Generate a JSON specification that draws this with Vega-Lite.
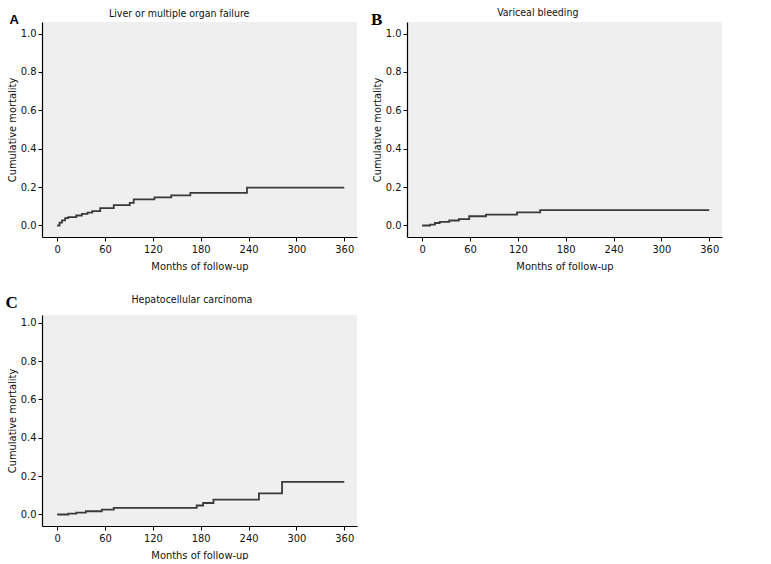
{
  "$schema": "https://vega.github.io/schema/vega-lite/v6.json",
  "padding": {"top": 8, "left": 5, "right": 5, "bottom": 0},
  "background": "white",
  "config": {
    "font": "'DejaVu Sans Condensed', 'DejaVu Sans'",
    "view": {"fill": "#efefef", "stroke": null},
    "axis": {
      "grid": false,
      "domainColor": "#000",
      "domainWidth": 1.2,
      "tickColor": "#000",
      "tickSize": 4,
      "labelColor": "#111",
      "labelFontSize": 11,
      "labelPadding": 2,
      "titleFontSize": 11,
      "titleFontWeight": "normal",
      "titleColor": "#111"
    }
  },
  "datasets": {
    "liver": [
      {"month": 0, "mortality": 0.0},
      {"month": 3, "mortality": 0.015},
      {"month": 6, "mortality": 0.027},
      {"month": 10, "mortality": 0.038},
      {"month": 14, "mortality": 0.044},
      {"month": 24, "mortality": 0.052},
      {"month": 31, "mortality": 0.06},
      {"month": 38, "mortality": 0.067},
      {"month": 44, "mortality": 0.075},
      {"month": 54, "mortality": 0.09},
      {"month": 71, "mortality": 0.106},
      {"month": 91, "mortality": 0.118},
      {"month": 96, "mortality": 0.136},
      {"month": 122, "mortality": 0.146},
      {"month": 143, "mortality": 0.157},
      {"month": 167, "mortality": 0.17},
      {"month": 238, "mortality": 0.197},
      {"month": 360, "mortality": 0.197}
    ],
    "varix": [
      {"month": 0, "mortality": 0.0},
      {"month": 10, "mortality": 0.004},
      {"month": 16, "mortality": 0.013},
      {"month": 22, "mortality": 0.019},
      {"month": 34, "mortality": 0.026},
      {"month": 46, "mortality": 0.033},
      {"month": 59, "mortality": 0.048},
      {"month": 80, "mortality": 0.057},
      {"month": 119, "mortality": 0.068},
      {"month": 148, "mortality": 0.08},
      {"month": 360, "mortality": 0.08}
    ],
    "hcc": [
      {"month": 0, "mortality": 0.0},
      {"month": 14, "mortality": 0.004},
      {"month": 24, "mortality": 0.01},
      {"month": 36, "mortality": 0.017},
      {"month": 56, "mortality": 0.025},
      {"month": 71, "mortality": 0.034},
      {"month": 175, "mortality": 0.047},
      {"month": 183, "mortality": 0.06},
      {"month": 196, "mortality": 0.078},
      {"month": 253, "mortality": 0.11},
      {"month": 282, "mortality": 0.17},
      {"month": 360, "mortality": 0.17}
    ],
    "labels": [
      {"panel": "A", "heading": "Liver or multiple organ failure"},
      {"panel": "B", "heading": "Variceal bleeding"},
      {"panel": "C", "heading": "Hepatocellular carcinoma"}
    ]
  },
  "columns": 2,
  "spacing": {"column": 14, "row": 22},
  "concat": [
    {
      "width": 315,
      "height": 215,
      "layer": [
        {
          "data": {"name": "liver"},
          "mark": {"type": "line", "interpolate": "step-after", "color": "#3a3a3a", "strokeWidth": 1.8},
          "encoding": {
            "x": {"field": "month", "type": "quantitative", "scale": {"domain": [-19, 376], "nice": false, "zero": false},
                  "axis": {"values": [0, 60, 120, 180, 240, 300, 360], "title": "Months of follow-up", "titlePadding": 6}},
            "y": {"field": "mortality", "type": "quantitative", "scale": {"domain": [-0.06, 1.06], "nice": false, "zero": false},
                  "axis": {"values": [0, 0.2, 0.4, 0.6, 0.8, 1.0], "format": ".1f", "title": "Cumulative mortality", "titlePadding": 3}}
          }
        },
        {
          "data": {"name": "labels"},
          "transform": [{"filter": "datum.panel === 'A'"}],
          "mark": {"type": "text", "font": "Liberation Sans", "fontWeight": "bold", "fontSize": 13, "baseline": "middle", "align": "center", "clip": false, "color": "#000"},
          "encoding": {"x": {"datum": -54}, "y": {"datum": 1.073}, "text": {"field": "panel"}}
        },
        {
          "data": {"name": "labels"},
          "transform": [{"filter": "datum.panel === 'A'"}],
          "mark": {"type": "text", "fontSize": 10.5, "baseline": "alphabetic", "align": "center", "clip": false, "color": "#111"},
          "encoding": {"x": {"datum": 153}, "y": {"datum": 1.0845}, "text": {"field": "heading"}}
        }
      ]
    },
    {
      "width": 315,
      "height": 215,
      "layer": [
        {
          "data": {"name": "varix"},
          "mark": {"type": "line", "interpolate": "step-after", "color": "#3a3a3a", "strokeWidth": 1.8},
          "encoding": {
            "x": {"field": "month", "type": "quantitative", "scale": {"domain": [-19, 376], "nice": false, "zero": false},
                  "axis": {"values": [0, 60, 120, 180, 240, 300, 360], "title": "Months of follow-up", "titlePadding": 6}},
            "y": {"field": "mortality", "type": "quantitative", "scale": {"domain": [-0.06, 1.06], "nice": false, "zero": false},
                  "axis": {"values": [0, 0.2, 0.4, 0.6, 0.8, 1.0], "format": ".1f", "title": "Cumulative mortality", "titlePadding": 3}}
          }
        },
        {
          "data": {"name": "labels"},
          "transform": [{"filter": "datum.panel === 'B'"}],
          "mark": {"type": "text", "font": "Liberation Serif", "fontWeight": "bold", "fontSize": 17, "baseline": "middle", "align": "center", "clip": false, "color": "#000"},
          "encoding": {"x": {"datum": -57}, "y": {"datum": 1.07}, "text": {"field": "panel"}}
        },
        {
          "data": {"name": "labels"},
          "transform": [{"filter": "datum.panel === 'B'"}],
          "mark": {"type": "text", "fontSize": 10.5, "baseline": "alphabetic", "align": "center", "clip": false, "color": "#111"},
          "encoding": {"x": {"datum": 145}, "y": {"datum": 1.091}, "text": {"field": "heading"}}
        }
      ]
    },
    {
      "width": 315,
      "height": 211,
      "layer": [
        {
          "data": {"name": "hcc"},
          "mark": {"type": "line", "interpolate": "step-after", "color": "#3a3a3a", "strokeWidth": 1.8},
          "encoding": {
            "x": {"field": "month", "type": "quantitative", "scale": {"domain": [-19, 376], "nice": false, "zero": false},
                  "axis": {"values": [0, 60, 120, 180, 240, 300, 360], "title": "Months of follow-up", "titlePadding": 6}},
            "y": {"field": "mortality", "type": "quantitative", "scale": {"domain": [-0.06, 1.04], "nice": false, "zero": false},
                  "axis": {"values": [0, 0.2, 0.4, 0.6, 0.8, 1.0], "format": ".1f", "title": "Cumulative mortality", "titlePadding": 3}}
          }
        },
        {
          "data": {"name": "labels"},
          "transform": [{"filter": "datum.panel === 'C'"}],
          "mark": {"type": "text", "font": "Liberation Serif", "fontWeight": "bold", "fontSize": 17, "baseline": "middle", "align": "center", "clip": false, "color": "#000"},
          "encoding": {"x": {"datum": -57}, "y": {"datum": 1.105}, "text": {"field": "panel"}}
        },
        {
          "data": {"name": "labels"},
          "transform": [{"filter": "datum.panel === 'C'"}],
          "mark": {"type": "text", "fontSize": 10.5, "baseline": "alphabetic", "align": "center", "clip": false, "color": "#111"},
          "encoding": {"x": {"datum": 169}, "y": {"datum": 1.1025}, "text": {"field": "heading"}}
        }
      ]
    }
  ]
}
